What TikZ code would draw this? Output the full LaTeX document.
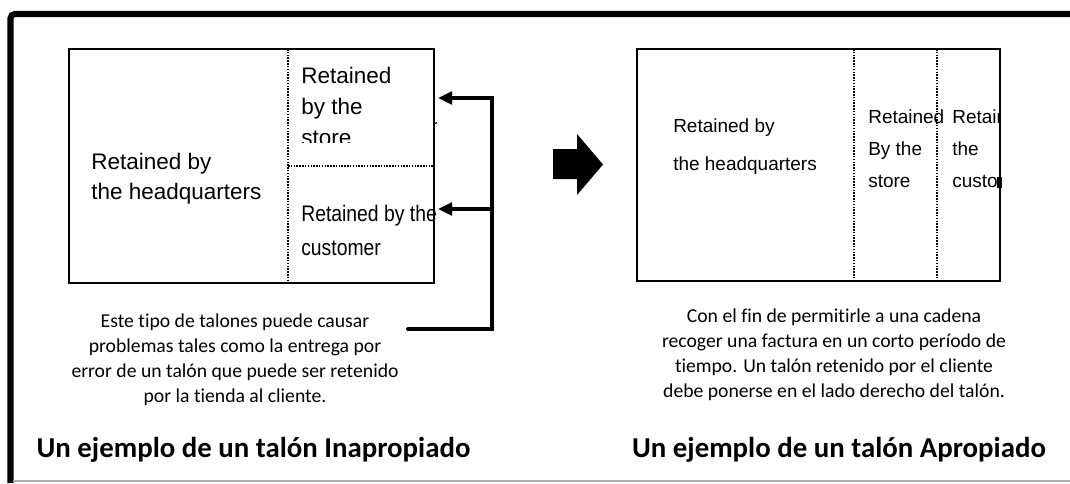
\documentclass[tikz,border=0pt]{standalone}
\usepackage{fontspec}
\setmainfont{Carlito}[Ligatures=NoCommon]
\newfontfamily\gotica{Liberation Sans}
\usetikzlibrary{arrows.meta}

\tikzset{
  marco/.style={line width=4.3pt, rounded corners=3pt},
  talon/.style={line width=1.7pt},
  corte/.style={line width=1.3pt, dash pattern=on 1.1pt off 0.9pt},
  flecha/.style={line width=2.8pt, line cap=round, -{Triangle[length=10pt,width=9pt]}},
  grande/.style={anchor=base west, inner sep=0pt, font=\gotica\fontsize{16}{16}\selectfont},
  chico/.style={anchor=base west, inner sep=0pt, font=\gotica\fontsize{13.5}{13.5}\selectfont},
  texto/.style={anchor=base, inner sep=0pt, font=\fontsize{14}{14}\selectfont},
  titulo/.style={anchor=base, inner sep=0pt, font=\bfseries\fontsize{20.5}{20.5}\selectfont}
}

\begin{document}
\begin{tikzpicture}[x=0.025cm, y=-0.025cm]
    \useasboundingbox (0,0) rectangle (1070,483);

    % Marco exterior
    \draw[marco] (10.5,483) -- (10.5,14) -- (1070,14);
    \draw[gray!60, line width=1pt] (13,481) -- (1070,481);

    % TALON INAPROPIADO (izquierda)
    \draw[talon] (69,49) rectangle (434,283);
    \draw[corte] (288,49) -- (288,283);
    \draw[corte] (288,166) -- (434,166);

    % Parte de la sede
    \node[grande] (sedeA) at (91,169) {Retained by};
    \node[grande] (sedeB) at (91,199) {the headquarters};

    % Parte de la tienda (texto cortado abajo)
    \node[grande] (tiendaA) at (301,83) {Retained};
    \node[grande] (tiendaB) at (301,114) {by the};
    \begin{scope}
        \clip (290,50) rectangle (432,142);
        \node[grande] (tiendaC) at (301,145) {store};
    \end{scope}
    \draw[line width=0.8pt] (434,124) -- (437,122.5);

    % Parte del cliente (letra estrecha)
    \node[grande] (clienteA) at (301,221) {\scalebox{0.86}[1]{Retained by the}};
    \node[grande] (clienteB) at (301,255) {\scalebox{0.86}[1]{customer}};

    % Flechas hacia las dos partes
    \coordinate (pie) at (408,329);
    \coordinate (codo) at (492,329);
    \coordinate (alto) at (492,98);
    \coordinate (medio) at (492,209);
    \coordinate (puntaA) at (438,98);
    \coordinate (puntaB) at (438,209);
    \draw[flecha] (pie) -- (codo) -- (alto) -- (puntaA);
    \draw[flecha] (medio) -- (puntaB);

    % Explicacion
    \node[texto] (izq1) at (235,327) {Este tipo de talones puede causar};
    \node[texto] (izq2) at (235,352) {problemas tales como la entrega por};
    \node[texto] (izq3) at (235,377) {error de un talón que puede ser retenido};
    \node[texto] (izq4) at (235,402) {por la tienda al cliente.};
    \node[titulo] (tituloIzq) at (253.5,457) {Un ejemplo de un talón Inapropiado};

    % Flecha de bloque
    \fill (553,149) -- (577,149) -- (577,134) -- (603,164.5)
        -- (577,195) -- (577,179) -- (553,179) -- cycle;

    % TALON APROPIADO (derecha)
    \draw[talon] (637,49) rectangle (1000,281);
    \draw[corte] (854,49) -- (854,281);
    \draw[corte] (937,49) -- (937,281);

    \node[chico] (sedeC) at (673,132) {Retained by};
    \node[chico] (sedeD) at (673,170) {the headquarters};

    \node[chico] (tiendaD) at (868,123) {Retained};
    \node[chico] (tiendaE) at (868,155) {By the};
    \node[chico] (tiendaF) at (868,187) {store};

    % Parte del cliente (cortada a la derecha)
    \begin{scope}
        \clip (939,50) rectangle (999,280);
        \node[chico] (clienteC) at (952,123) {Retained};
        \node[chico] (clienteD) at (952,155) {the};
        \node[chico] (clienteE) at (952,187) {customer};
    \end{scope}
    \fill (997,177) rectangle (1002,188);

    % Explicacion
    \node[texto] (der1) at (834,322) {Con el fin de permitirle a una cadena};
    \node[texto] (der2) at (834,347) {recoger una factura en un corto período de};
    \node[texto] (der3) at (834,372) {tiempo. Un talón retenido por el cliente};
    \node[texto] (der4) at (834,397) {debe ponerse en el lado derecho del talón.};
    \node[titulo] (tituloDer) at (839,457) {Un ejemplo de un talón Apropiado};
\end{tikzpicture}
\end{document}
